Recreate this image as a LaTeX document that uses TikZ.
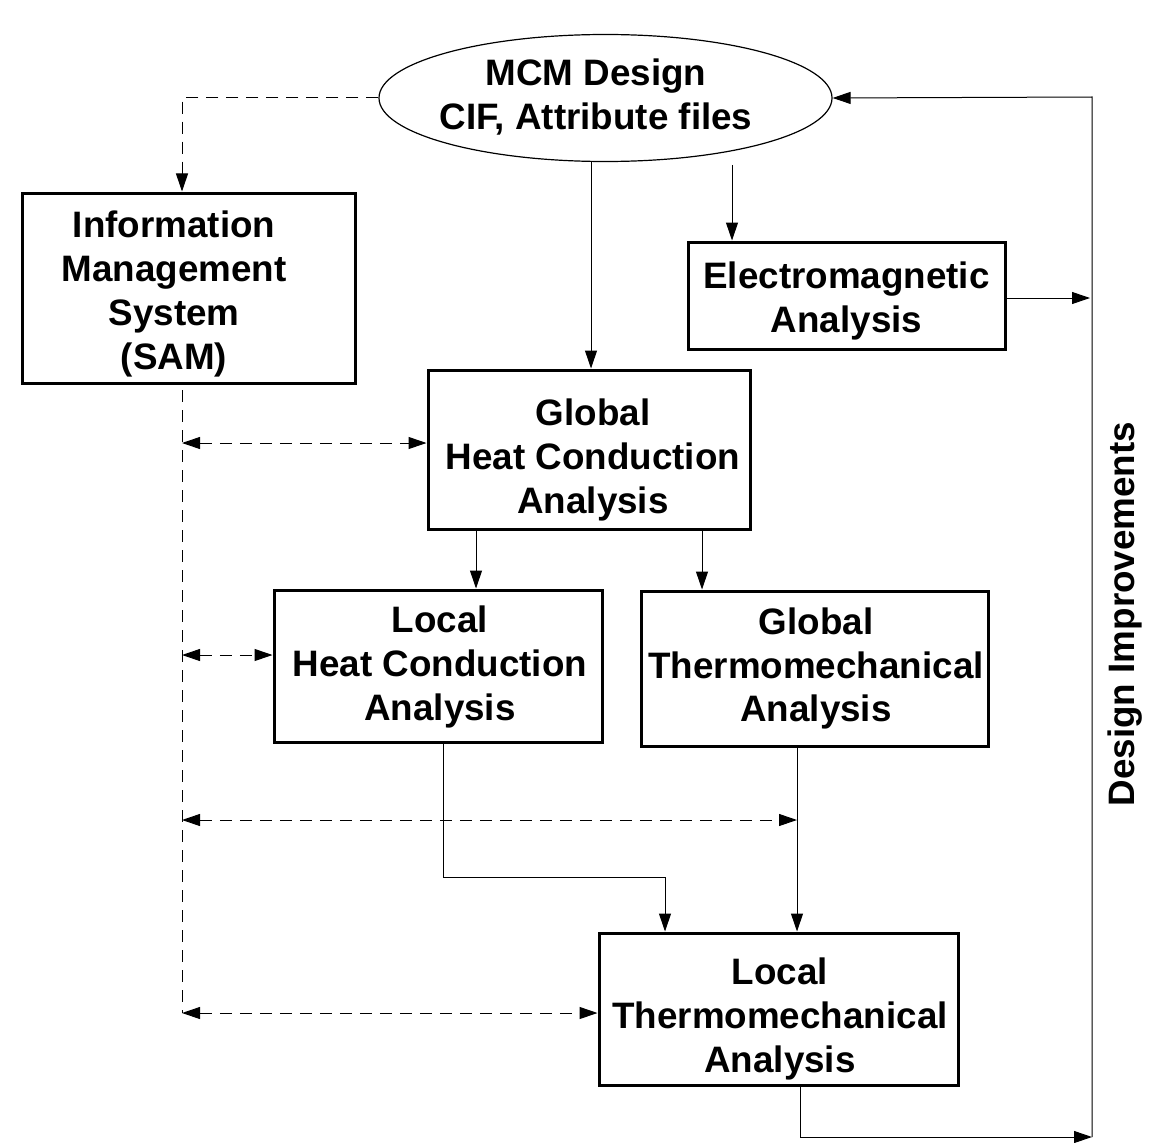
\documentclass[tikz,border=0pt]{standalone}
\usepackage{fontspec}
\setmainfont{Liberation Sans}
\usetikzlibrary{arrows.meta,shapes.geometric}
\begin{document}
\begin{tikzpicture}[x=1pt,y=-1pt,
  label font/.style={font=\bfseries\fontsize{36.8}{43.8}\selectfont},
  box/.style={draw, line width=3pt, inner sep=0pt},
  txt/.style={inner sep=0pt, align=center, label font},
  tip/.tip={Triangle[length=18pt,width=12pt]},
  flow/.style={line width=1pt, -tip},
  both/.style={line width=1pt, tip-tip},
  link/.style={dash pattern=on 12pt off 8pt},
  wire/.style={line width=1pt}]
\useasboundingbox (0,0) rectangle (1150,1142);

% design source
\node[draw, ellipse, line width=1.2pt, minimum width=453pt, minimum height=127pt, inner sep=0pt] (ell) at (605.5,98) {};
\node[txt] (elltext) at (596,97) {MCM Design\\CIF, Attribute files};

% analysis blocks
\node[box, minimum width=333pt, minimum height=190pt] (info) at (188.5,288) {};
\node[box, minimum width=317pt, minimum height=107pt] (em)   at (846.5,295.5) {};
\node[box, minimum width=322pt, minimum height=159pt] (ghc)  at (589,449.5) {};
\node[box, minimum width=328pt, minimum height=152pt] (lhc)  at (438,666) {};
\node[box, minimum width=347pt, minimum height=155pt] (gtm)  at (814.5,668.5) {};
\node[box, minimum width=359pt, minimum height=152pt] (ltm)  at (778.5,1009) {};

% block texts
\node[txt] (info-t) at (174,294) {Information\\Management\\System\\(SAM)};
\node[txt] (em-t)   at (846.5,301) {Electromagnetic\\Analysis};
\node[txt] (ghc-t)  at (593,460) {Global\\Heat Conduction\\Analysis};
\node[txt] (lhc-t)  at (440,667) {Local\\Heat Conduction\\Analysis};
\node[txt] (gtm-t)  at (816,668.5) {Global\\Thermomechanical\\Analysis};
\node[txt] (ltm-t)  at (780,1019) {Local\\Thermomechanical\\Analysis};

\node[rotate=90, txt] (di) at (1125,614) {Design Improvements};

% helper points
\coordinate (bustop) at (182,390);
\coordinate (busbot) at (182,1013);
\coordinate (fbtop) at (1092,97);
\coordinate (fbbot) at (1092,1137);
\coordinate (emin) at (1090,298);
\coordinate (ellout) at (732,165);
\coordinate (gtmbus) at (797,820);
\coordinate (lhcbend) at (443,877);
\coordinate (ltmbend) at (665,877);
\coordinate (ltmout) at (800,1137);

% information management links
\draw[wire, link, flow] (ell.west) -| (bustop |- info.north);
\draw[wire, link] (bustop) -- (busbot);
\draw[both, link] (bustop |- 0,443) -- (ghc.west |- 0,443);
\draw[both, link] (bustop |- 0,655) -- (lhc.west |- 0,655);
\draw[both, link] (bustop |- gtmbus) -- (gtmbus);
\draw[both, link] (busbot) -- (ltm.west |- busbot);

% analysis flow
\draw[flow] (ell.south -| 591,0) -- (ghc.north -| 591,0);
\draw[flow] (ellout) -- (em.north -| ellout);
\draw[flow] (ghc.south -| 476,0) -- (lhc.north -| 476,0);
\draw[flow] (ghc.south -| 702,0) -- (gtm.north -| 702,0);
\draw[flow] (lhc.south -| lhcbend) -- (lhcbend) -- (ltmbend) -- (ltm.north -| ltmbend);
\draw[flow] (gtm.south -| gtmbus) -- (ltm.north -| gtmbus);

% feedback loop
\draw[flow] (em.east |- emin) -- (emin);
\draw[flow] (ltm.south -| ltmout) -- (ltmout) -- (fbbot);
\draw[flow] (fbbot) -- (fbtop) -- (ell.east);
\end{tikzpicture}
\end{document}
